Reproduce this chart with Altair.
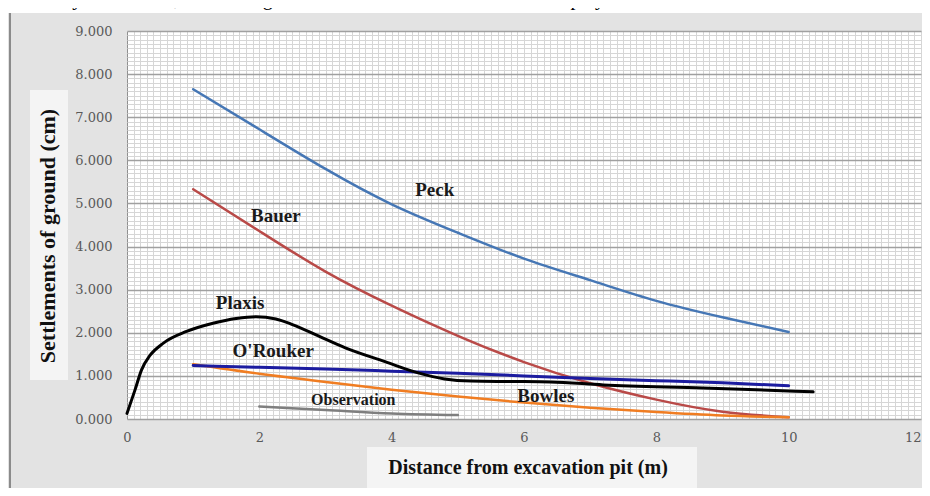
import altair as alt
import pandas as pd

# ---------------- data ----------------
int_x = [1, 2, 3, 4, 5, 6, 7, 8, 9, 10]
peck_y = [7.65, 6.72, 5.80, 4.98, 4.32, 3.72, 3.22, 2.74, 2.36, 2.02]
bauer_y = [5.33, 4.36, 3.42, 2.63, 1.93, 1.32, 0.83, 0.45, 0.17, 0.04]
bowles_y = [1.27, 1.05, 0.86, 0.68, 0.52, 0.38, 0.26, 0.16, 0.08, 0.04]
orouker_y = [1.24, 1.20, 1.16, 1.11, 1.06, 1.00, 0.94, 0.89, 0.84, 0.77]

plaxis_x = [0, 0.12, 0.22, 0.35, 0.55, 0.9, 1.3, 1.65, 1.95, 2.25, 2.5, 2.9,
            3.3, 3.9, 4.4, 4.8, 5.2, 5.8, 6.4, 7.2, 8.7, 10.37]
plaxis_y = [0.13, 0.67, 1.14, 1.48, 1.76, 2.03, 2.22, 2.33, 2.37, 2.32, 2.19,
            1.92, 1.65, 1.33, 1.07, 0.93, 0.88, 0.87, 0.86, 0.79, 0.72, 0.63]

obs_x = [2, 3, 4, 5]
obs_y = [0.29, 0.21, 0.13, 0.09]

series_names = ["Peck", "Bauer", "Bowles", "O'Rouker", "Plaxis", "Observation"]
series_colors = ["#4677b5", "#b94a48", "#f07d22", "#1c1ca0", "#000000", "#7f7f7f"]
series_widths = [2.5, 2.5, 2.5, 3, 3, 2.5]
series_interp = ["natural", "natural", "natural", "natural", "monotone", "monotone"]
series_x = [int_x, int_x, int_x, int_x, plaxis_x, obs_x]
series_y = [peck_y, bauer_y, bowles_y, orouker_y, plaxis_y, obs_y]

label_text = ["Peck", "Bauer", "Plaxis", "O'Rouker", "Bowles"]
label_x = [4.65, 2.25, 1.71, 2.21, 6.33]
label_y = [5.31, 4.71, 2.69, 1.58, 0.53]
obs_label = ["Observation"]
obs_label_x = [3.42]
obs_label_y = [0.44]

x_ticks = [round(i * 0.1, 1) for i in range(121)]
y_ticks = [round(i * 0.1, 1) for i in range(91)]

W, H = 794, 388
xs = alt.Scale(domain=[0, 12], nice=False, zero=False)
ys = alt.Scale(domain=[0, 9], nice=False, zero=False)

one = pd.DataFrame({"d": [0]})

# ---------------- shared axes (identical in every data layer) ----------------
x_axis = alt.Axis(
    values=x_ticks, grid=True, ticks=False, domain=False, title=None,
    gridColor={"condition": {"test": "datum.value === 0", "value": "#8f8f8f"}, "value": "#d6d6d6"},
    gridWidth=1,
    labelExpr="datum.value % 2 === 0 ? format(datum.value, 'd') : ''",
    labelAlign={"condition": {"test": "datum.value === 12", "value": "right"}, "value": "center"},
    labelOverlap=False, labelFlush=False, labelFont="DejaVu Serif",
    labelFontSize=13, labelColor="#595959", labelPadding=12,
)
y_axis = alt.Axis(
    values=y_ticks, grid=True, ticks=False, domain=False, title=None,
    gridColor={"condition": {"test": "datum.value % 1 === 0", "value": "#a0a0a0"}, "value": "#d6d6d6"},
    gridWidth={"condition": {"test": "datum.value % 1 === 0", "value": 1.5}, "value": 1},
    labelExpr="datum.value % 1 === 0 ? format(datum.value, '.3f') : ''",
    labelOverlap=False, labelFlush=False, labelFont="DejaVu Serif",
    labelFontSize=13, labelColor="#595959", labelPadding=15,
)

# ---------------- decorations ----------------
top_strip = alt.Chart(one).mark_rect(color="#ffffff").encode(
    x=alt.value(-120), x2=alt.value(W + 2), y=alt.value(-24), y2=alt.value(-18))
frame = alt.Chart(one).mark_rule(color="#6e6e6e", strokeWidth=1.5).encode(
    x=alt.value(-117), y=alt.value(-18), y2=alt.value(H + 70))
ybox = alt.Chart(one).mark_rect(color="#f4f4f4").encode(
    x=alt.value(-97), x2=alt.value(-59), y=alt.value(59), y2=alt.value(349))
xbox = alt.Chart(one).mark_rect(color="#f4f4f4").encode(
    x=alt.value(240), x2=alt.value(570), y=alt.value(416), y2=alt.value(H + 70))
top_text = alt.Chart(one).mark_text(
    font="Liberation Serif", fontSize=20, color="#000000", align="left",
    baseline="alphabetic").encode(
    x=alt.value(-88), y=alt.value(-26),
    text=alt.value("analytical results, monitoring data and simulation rersults were displayed."))
x_title = alt.Chart(one).mark_text(
    font="Liberation Serif", fontWeight="bold", fontSize=20, color="#111111",
    align="center", baseline="middle").encode(
    x=alt.value(401), y=alt.value(437), text=alt.value("Distance from excavation pit (m)"))
y_title = alt.Chart(one).mark_text(
    font="Liberation Serif", fontWeight="bold", fontSize=22, color="#111111",
    align="center", baseline="middle", angle=270).encode(
    x=alt.value(-79), y=alt.value(205), text=alt.value("Settlements of ground (cm)"))

layers = [top_strip, frame, ybox, xbox, top_text, x_title, y_title]

# ---------------- series lines ----------------
for name, col, w, ip, sx, sy in zip(series_names, series_colors, series_widths,
                                     series_interp, series_x, series_y):
    df = pd.DataFrame({"x": sx, "y": sy, "s": name})
    layers.append(
        alt.Chart(df).mark_line(color=col, strokeWidth=w, interpolate=ip,
                                strokeCap="round").encode(
            x=alt.X("x:Q", scale=xs, axis=x_axis),
            y=alt.Y("y:Q", scale=ys, axis=y_axis),
        )
    )

# ---------------- series labels ----------------
lab_df = pd.DataFrame({"x": label_x, "y": label_y, "t": label_text})
layers.append(
    alt.Chart(lab_df).mark_text(font="Liberation Serif", fontWeight="bold", fontSize=19,
                                color="#1a1a1a", align="center", baseline="middle").encode(
        x=alt.X("x:Q", scale=xs, axis=x_axis),
        y=alt.Y("y:Q", scale=ys, axis=y_axis),
        text="t:N",
    )
)
obs_df = pd.DataFrame({"x": obs_label_x, "y": obs_label_y, "t": obs_label})
layers.append(
    alt.Chart(obs_df).mark_text(font="Liberation Serif", fontWeight="bold", fontSize=16,
                                color="#1a1a1a", align="center", baseline="middle").encode(
        x=alt.X("x:Q", scale=xs, axis=x_axis),
        y=alt.Y("y:Q", scale=ys, axis=y_axis),
        text="t:N",
    )
)

chart = alt.layer(*layers).properties(
    width=W, height=H,
    padding={"left": 119, "top": 23, "right": 1, "bottom": 69},
    autosize=alt.AutoSizeParams(type="none"),
    background="#e3e3e3",
).configure_view(fill="#ffffff", stroke=None)

chart.save("out.html", embed_options={"renderer": "svg", "actions": False})
